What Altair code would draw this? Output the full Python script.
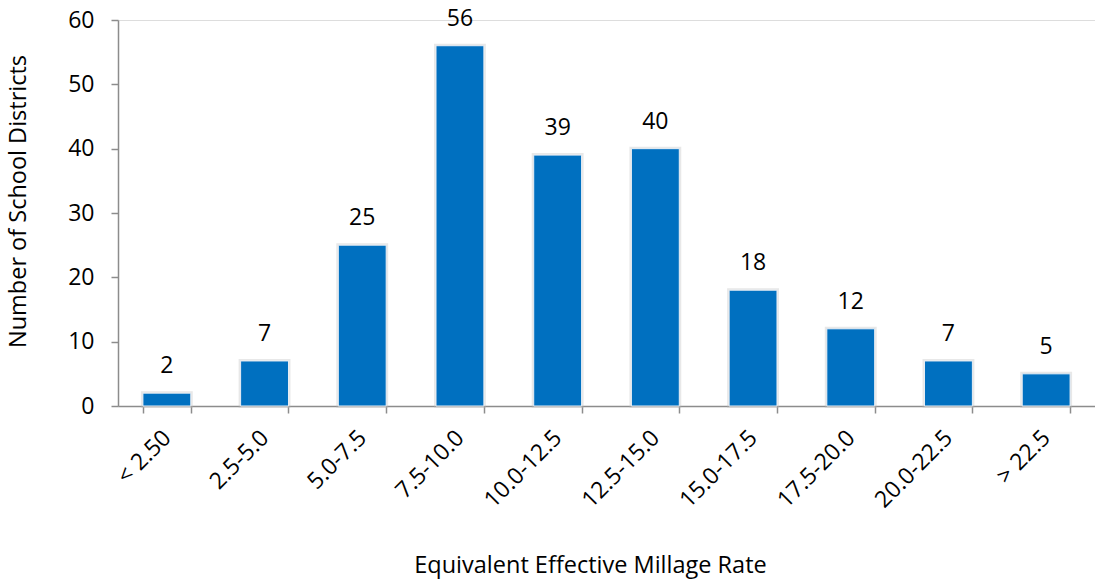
import altair as alt
import pandas as pd

# Distribution of school districts by equivalent effective millage rate
categories = ["< 2.50", "2.5-5.0", "5.0-7.5", "7.5-10.0", "10.0-12.5",
              "12.5-15.0", "15.0-17.5", "17.5-20.0", "20.0-22.5", "> 22.5"]
districts = [2, 7, 25, 56, 39, 40, 18, 12, 7, 5]

df = pd.DataFrame({"rate": categories, "count": districts})

FONT = "Open Sans"
FS = 23
BLUE = "#0070C0"
AXIS_GRAY = "#8C8C8C"

x_enc = alt.X(
    "rate:N",
    sort=categories,
    scale=alt.Scale(paddingInner=0.51, paddingOuter=0.255),
    axis=alt.Axis(
        title="Equivalent Effective Millage Rate",
        titleFont=FONT, titleFontSize=23.5, titleFontWeight="normal",
        titleColor="#000000", titleX=472, titleY=159, titleBaseline="middle",
        labelAngle=-45, labelFont=FONT, labelFontSize=FS, labelColor="#000000",
        labelPadding=21, labelAlign="right", labelBaseline="middle",
        domainColor=AXIS_GRAY, domainWidth=1.5,
        tickColor=AXIS_GRAY, tickWidth=1.5, tickSize=7, tickBand="extent",
        grid=False,
    ),
)

y_enc = alt.Y(
    "count:Q",
    scale=alt.Scale(domain=[0, 60], nice=False),
    axis=alt.Axis(
        title="Number of School Districts",
        titleFont=FONT, titleFontSize=23.5, titleFontWeight="normal",
        titleColor="#000000", titleX=-100, titleY=181, titleBaseline="middle",
        values=[0, 10, 20, 30, 40, 50, 60],
        labelFont=FONT, labelFontSize=FS, labelColor="#000000", labelPadding=17,
        domainColor=AXIS_GRAY, domainWidth=1.5,
        tickColor=AXIS_GRAY, tickWidth=1.5, tickSize=7,
        grid=False,
    ),
)

base = alt.Chart(df).encode(x=x_enc, y=y_enc)

# soft shadow behind each bar
shadow = base.mark_bar(
    fill="#000000", fillOpacity=0.0,
    stroke="#BDBDBD", strokeWidth=4, strokeOpacity=0.35,
)

bars = base.mark_bar(fill=BLUE, stroke="#E8EEF5", strokeWidth=1)

labels = base.mark_text(
    dy=-20, baseline="alphabetic", font=FONT, fontSize=FS, color="#000000"
).encode(text="count:Q")

chart = (
    alt.layer(shadow, bars, labels)
    .properties(
        width=977, height=386,
        autosize=alt.AutoSizeParams(type="none"),
        padding={"left": 118, "top": 20, "right": 0, "bottom": 174},
    )
    .configure_view(stroke=None)
    .configure(background="#FFFFFF")
)

chart.save("out.html", embed_options={"renderer": "svg", "actions": False})
